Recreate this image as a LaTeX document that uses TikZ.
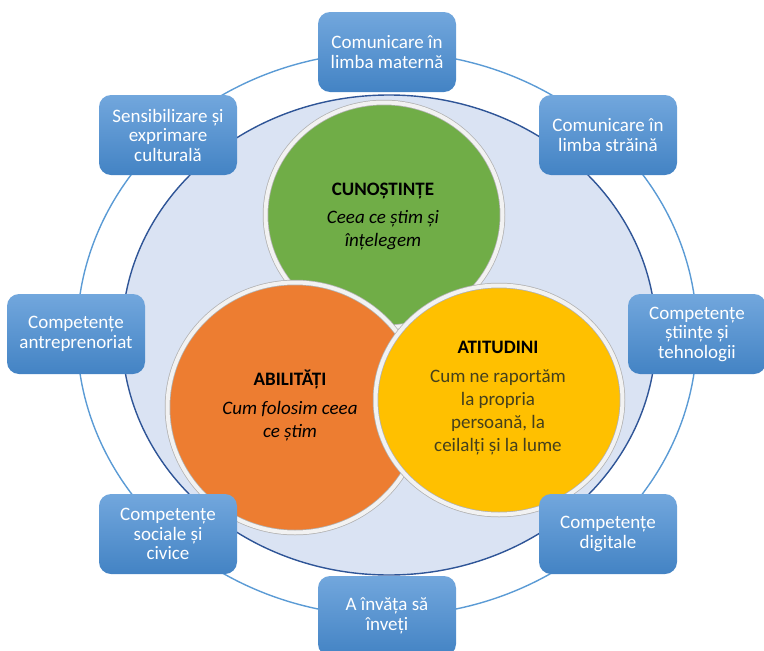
\documentclass[tikz,border=0pt]{standalone}
\usepackage{fontspec}
\setmainfont{Carlito}
\definecolor{boxtop}{HTML}{72A7DD}
\definecolor{boxbot}{HTML}{4383C4}
\definecolor{bigfill}{HTML}{DAE3F3}
\definecolor{bigline}{HTML}{2F5597}
\definecolor{ringline}{HTML}{5B9BD5}
\definecolor{cgreen}{HTML}{70AD47}
\definecolor{corange}{HTML}{ED7D31}
\definecolor{cyellow}{HTML}{FFC000}
\definecolor{olivetext}{HTML}{45401C}
\begin{document}
\begin{tikzpicture}[x=1pt,y=-1pt,
  cbox/.style={rounded corners=12pt, top color=boxtop, bottom color=boxbot,
    draw=none, minimum width=138pt, minimum height=80pt, text=white,
    align=center, inner sep=0pt,
    font=\fontsize{19}{19.5}\selectfont},
  ctext/.style={align=center, inner sep=0pt,
    font=\fontsize{19}{23}\selectfont},
  rimouter/.style={draw=black!30, line width=5.5pt},
  rim/.style={draw=white!95!black, line width=4pt}
]
\useasboundingbox (0,0) rectangle (764,651);
% big light ellipse
\filldraw[fill=bigfill, draw=bigline, line width=1.4pt] (389,335) ellipse [x radius=267pt, y radius=240pt];
% outer ring
\draw[ringline, line width=1.4pt] (387,334) ellipse [x radius=310pt, y radius=282pt];
% green
\fill[cgreen] (384,215) ellipse [x radius=118.5pt, y radius=112.5pt];
\draw[rimouter] (384,215) ellipse [x radius=118.5pt, y radius=112.5pt];
\draw[rim] (384,215) ellipse [x radius=118.5pt, y radius=112.5pt];
% orange
\fill[corange] (295,407.5) ellipse [x radius=127.5pt, y radius=125pt];
\draw[rimouter] (295,407.5) ellipse [x radius=127.5pt, y radius=125pt];
\draw[rim] (295,407.5) ellipse [x radius=127.5pt, y radius=125pt];
% yellow
\fill[cyellow] (499,400) ellipse [x radius=123.5pt, y radius=114.5pt];
\draw[rimouter] (499,400) ellipse [x radius=123.5pt, y radius=114.5pt];
\draw[rim] (499,400) ellipse [x radius=123.5pt, y radius=114.5pt];
% circle texts
\node[ctext] (cun) at (383,217) {\textbf{CUNOȘTINȚE}\\[5pt]\textit{Ceea ce știm și}\\\textit{înțelegem}};
\node[ctext] (abi) at (290,405) {\textbf{ABILITĂȚI}\\[6pt]\textit{Cum folosim ceea}\\\textit{ce știm}};
\node[ctext, text=olivetext] (ati) at (498,398) {\textcolor{black}{\textbf{ATITUDINI}}\\[6pt]Cum ne raportăm\\la propria\\persoană, la\\ceilalți și la lume};
% boxes
\node[cbox] (b1) at (387,52) {Comunicare în\\limba maternă};
\node[cbox] (b2) at (608,135) {Comunicare în\\limba străină};
\node[cbox] (b3) at (697,334) {Competențe\\științe și\\tehnologii};
\node[cbox] (b4) at (608,534) {Competențe\\digitale};
\node[cbox] (b5) at (387,616) {A învăța să\\înveți};
\node[cbox] (b6) at (168,534) {Competențe\\sociale și\\civice};
\node[cbox] (b7) at (76,334) {Competențe\\antreprenoriat};
\node[cbox] (b8) at (168,135) {Sensibilizare și\\exprimare\\culturală};
\end{tikzpicture}
\end{document}
